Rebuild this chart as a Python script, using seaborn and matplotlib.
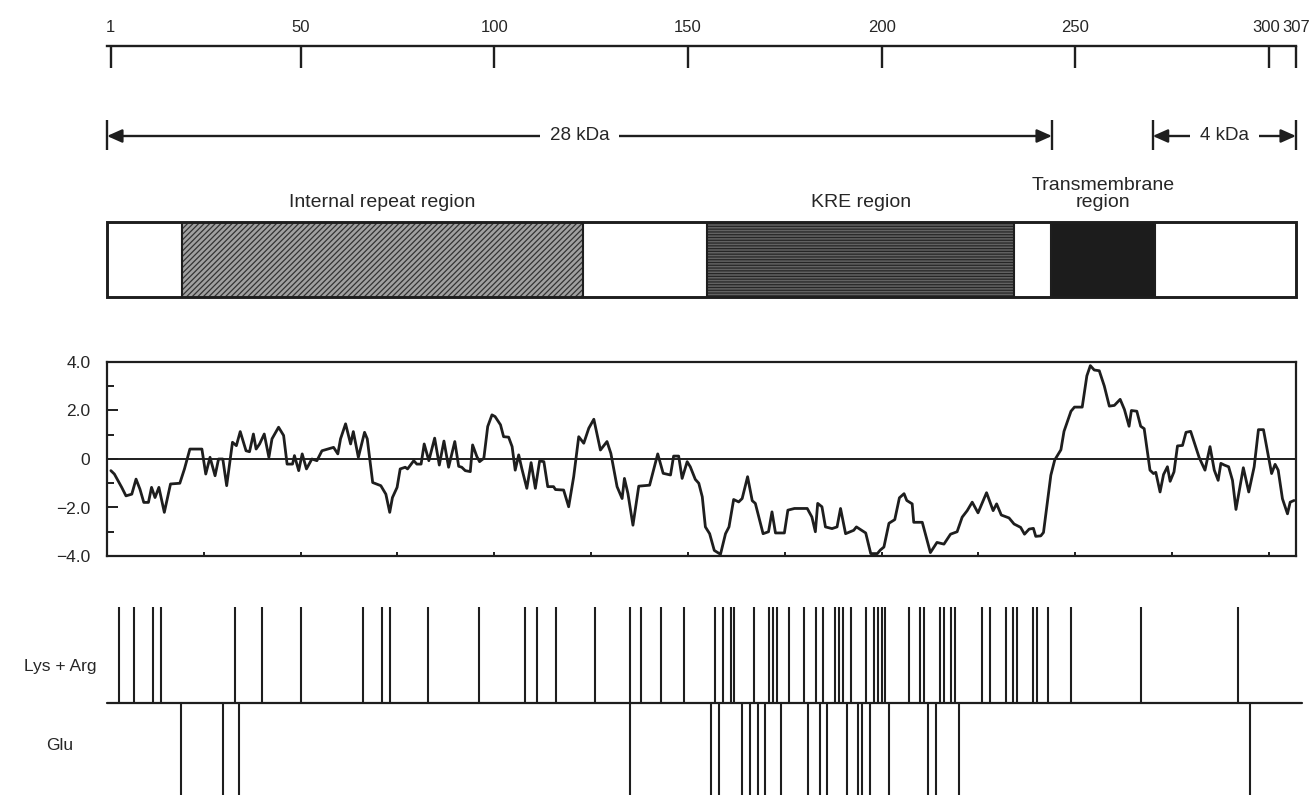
import matplotlib
matplotlib.use("Agg")
import numpy as np
import pandas as pd
import matplotlib.pyplot as plt
import seaborn as sns
from matplotlib.patches import Rectangle
from matplotlib.transforms import ScaledTranslation

# --- data (residue numbers) ---
seq_len = 307
scale_ticks = [1, 50, 100, 150, 200, 250, 300, 307]

mass_edges = [0, 244, 270, 307]          # 28 kDa: 0-244, 4 kDa: 270-307
mass_labels = ["28 kDa", "4 kDa"]

dom_start = [0, 19.3, 122.8, 155, 234.2, 243.8, 270.6]
dom_end = [19.3, 122.8, 155, 234.2, 243.8, 270.6, 307]
dom_kind = ["plain", "repeat", "plain", "kre", "plain", "tm", "plain"]
dom_names = {"repeat": "Internal repeat region", "kre": "KRE region",
             "tm": "Transmembrane\nregion"}

# hydropathy profile
hyd_pos = [1.0, 1.9, 3.8, 4.9, 6.4, 7.5, 8.5, 9.5, 10.7, 11.5, 12.4, 13.4, 14.8,
           16.4, 18.8, 20.0, 21.4, 24.5, 25.5, 26.6, 27.9, 28.8, 29.9, 30.9, 32.4,
           33.4, 34.4, 35.9, 36.8, 37.8, 38.5, 39.4, 40.6, 41.8, 42.6, 44.3, 45.6,
           46.5, 47.9, 48.4, 49.5, 50.4, 51.5, 52.9, 54.2, 55.5, 58.5, 59.6, 60.3,
           61.6, 62.9, 63.6, 64.9, 66.5, 67.2, 68.6, 70.7, 72.0, 73.0, 73.7, 74.9,
           75.7, 77.0, 77.6, 79.2, 80.0, 81.1, 81.9, 83.1, 84.6, 85.8, 87.0, 88.2,
           89.8, 90.8, 91.6, 92.5, 93.8, 94.4, 95.5, 96.2, 97.3, 98.3, 99.4, 100.2,
           101.6, 102.4, 103.7, 104.6, 105.4, 106.3, 107.1, 108.4, 109.5, 110.6,
           111.7, 112.8, 113.8, 115.3, 115.8, 117.9, 119.2, 120.5, 121.8, 123.1,
           124.4, 125.7, 127.4, 129.1, 130.1, 131.7, 133.0, 133.6, 134.5, 135.8,
           137.3, 140.1, 142.2, 143.6, 145.5, 146.3, 147.6, 148.5, 149.8, 150.6,
           151.9, 152.8, 153.7, 154.5, 155.6, 156.8, 158.4, 159.7, 160.6, 161.8,
           163.1, 164.0, 165.4, 166.6, 167.4, 169.4, 170.8, 171.7, 172.6, 174.9,
           175.8, 177.5, 180.8, 182.0, 182.9, 183.5, 184.6, 185.5, 187.2, 188.5,
           189.4, 190.7, 192.8, 193.5, 195.9, 197.2, 198.9, 199.7, 200.6, 201.9,
           203.4, 204.6, 205.8, 206.5, 207.9, 208.3, 210.5, 212.6, 214.3, 216.1,
           217.8, 219.5, 220.8, 222.1, 223.4, 224.9, 227.1, 228.8, 229.7, 230.9,
           232.9, 234.2, 235.9, 236.9, 238.1, 239.2, 239.8, 241.1, 241.8, 242.8,
           243.7, 244.7, 246.3, 247.1, 248.9, 249.8, 251.8, 253.0, 253.9, 254.9,
           256.2, 257.5, 258.8, 260.1, 261.6, 262.7, 263.9, 264.5, 265.9, 266.9,
           267.8, 269.3, 270.2, 270.8, 271.9, 272.8, 273.8, 274.5, 275.5, 276.4,
           277.7, 278.6, 279.8, 282.0, 283.5, 284.8, 285.9, 286.9, 287.6, 288.5,
           289.6, 290.6, 291.5, 293.4, 294.8, 296.2, 297.3, 298.6, 300.7, 301.6,
           302.4, 303.5, 304.8, 305.5, 306.5]
hyd_val = [-0.48, -0.62, -1.17, -1.52, -1.45, -0.83, -1.24, -1.79, -1.79, -1.17,
           -1.59, -1.17, -2.2, -1.03, -1.0, -0.41, 0.41, 0.41, -0.62, 0.07, -0.69,
           0.0, 0.0, -1.1, 0.69, 0.55, 1.13, 0.34, 0.3, 1.03, 0.41, 0.62, 1.03,
           0.07, 0.83, 1.31, 0.97, -0.21, -0.21, 0.14, -0.48, 0.21, -0.41, 0.0,
           -0.07, 0.34, 0.48, 0.21, 0.83, 1.45, 0.62, 1.13, 0.07, 1.1, 0.83, -0.97,
           -1.1, -1.45, -2.2, -1.59, -1.17, -0.41, -0.34, -0.41, -0.07, -0.21,
           -0.21, 0.62, -0.07, 0.86, -0.25, 0.74, -0.34, 0.72, -0.3, -0.34, -0.48,
           -0.52, 0.58, 0.1, -0.11, 0.03, 1.34, 1.82, 1.75, 1.41, 0.92, 0.9, 0.51,
           -0.46, 0.17, -0.39, -1.21, -0.15, -1.21, -0.08, -0.11, -1.14, -1.14,
           -1.26, -1.28, -1.97, -0.73, 0.92, 0.65, 1.27, 1.64, 0.37, 0.72, 0.23,
           -1.14, -1.63, -0.8, -1.42, -2.73, -1.12, -1.08, 0.21, -0.59, -0.66,
           0.12, 0.12, -0.8, -0.11, -0.32, -0.84, -1.0, -1.56, -2.8, -3.08, -3.77,
           -3.93, -3.08, -2.8, -1.67, -1.77, -1.63, -0.73, -1.72, -1.83, -3.08,
           -3.0, -2.18, -3.05, -3.05, -2.11, -2.04, -2.04, -2.39, -3.0, -1.83,
           -1.97, -2.8, -2.87, -2.8, -2.04, -3.08, -2.94, -2.8, -3.05, -3.9, -3.9,
           -3.75, -3.63, -2.65, -2.5, -1.6, -1.43, -1.71, -1.85, -2.61, -2.61,
           -3.86, -3.44, -3.51, -3.1, -3.0, -2.4, -2.13, -1.78, -2.22, -1.39,
           -2.13, -1.85, -2.31, -2.43, -2.68, -2.82, -3.1, -2.89, -2.86, -3.19,
           -3.17, -3.03, -1.78, -0.67, -0.04, 0.38, 1.14, 1.97, 2.14, 2.14, 3.43,
           3.85, 3.67, 3.64, 3.01, 2.18, 2.21, 2.46, 2.04, 1.35, 2.0, 1.97, 1.35,
           1.25, -0.46, -0.6, -0.55, -1.36, -0.64, -0.32, -0.92, -0.53, 0.54, 0.56,
           1.1, 1.14, 0.06, -0.46, 0.51, -0.46, -0.88, -0.18, -0.25, -0.32, -0.88,
           -2.08, -0.36, -1.36, -0.32, 1.21, 1.21, -0.6, -0.22, -0.46, -1.64,
           -2.26, -1.78, -1.71]

lys_arg = [3, 7, 12, 14, 33, 40, 50, 66, 71, 73, 83, 96, 108, 111, 116, 126, 135,
           138, 143, 149, 157, 159, 161, 162, 167, 171, 172, 173, 176, 180, 183,
           185, 188, 189, 190, 192, 196, 198, 199, 200, 201, 207, 210, 211, 215,
           216, 218, 219, 226, 228, 232, 234, 235, 239, 240, 243, 249, 267, 292]
glu = [19, 30, 34, 135, 156, 158, 164, 166, 168, 170, 174, 181, 184, 186, 191,
       194, 195, 197, 202, 212, 214, 220, 295]

# --- figure ---
sns.set_style("white")
plt.rcParams["font.family"] = ["Liberation Sans", "DejaVu Sans"]
plt.rcParams["hatch.linewidth"] = 0.9

W, H = 1314, 795
fig = plt.figure(figsize=(W / 100, H / 100), dpi=100)
X0, X1 = 107, 1296


def add_row(y_top, y_bot):
    ax = fig.add_axes([X0 / W, 1 - y_bot / H, (X1 - X0) / W, (y_bot - y_top) / H])
    ax.set_xlim(0, seq_len)
    return ax


K = "#1e1e1e"

# residue scale
ax_s = add_row(46, 80)
for side in ["left", "right", "bottom"]:
    ax_s.spines[side].set_visible(False)
ax_s.spines["top"].set_linewidth(1.7)
ax_s.spines["top"].set_color(K)
ax_s.set_yticks([])
ax_s.set_xticks(scale_ticks)
ax_s.set_xticklabels([str(t) for t in scale_ticks])
ax_s.tick_params(axis="x", bottom=False, top=True, labelbottom=False, labeltop=True,
                 direction="in", length=16, width=1.7, color=K, pad=8, labelsize=12)
lab300 = ax_s.get_xticklabels()[-2]
lab300.set_transform(lab300.get_transform() + ScaledTranslation(-0.03, 0, fig.dpi_scale_trans))

# molecular mass arrows
ax_a = add_row(115, 155)
ax_a.set_ylim(0, 1)
ax_a.axis("off")
ax_a.vlines(mass_edges, 0.125, 0.875, color=K, lw=1.7, clip_on=False)
for (a, b), lab in zip([(mass_edges[0], mass_edges[1]), (mass_edges[2], mass_edges[3])], mass_labels):
    ax_a.annotate("", xy=(a, 0.475), xytext=(b, 0.475),
                  arrowprops=dict(arrowstyle="<|-|>,head_length=0.9,head_width=0.4",
                                  lw=1.7, color=K, shrinkA=0, shrinkB=0),
                  annotation_clip=False)
    ax_a.text((a + b) / 2, 0.475, lab, ha="center", va="center", fontsize=13.5,
              bbox=dict(facecolor="white", edgecolor="none", pad=7))

# domain map
ax_d = add_row(222, 297)
ax_d.set_ylim(0, 1)
ax_d.axis("off")
styles = {"plain": dict(facecolor="white", hatch=None),
          "repeat": dict(facecolor="#a0a0a0", edgecolor="#333333", hatch="//////"),
          "kre": dict(facecolor="#626262", edgecolor="#262626", hatch="------"),
          "tm": dict(facecolor="#1c1c1c", edgecolor="#1c1c1c", hatch=None)}
for s, e, k in zip(dom_start, dom_end, dom_kind):
    ax_d.add_patch(Rectangle((s, 0), e - s, 1, lw=0, **styles[k]))
    if k in dom_names:
        ax_d.text((s + e) / 2, 1.15, dom_names[k], ha="center", va="bottom",
                  fontsize=14, linespacing=1.0)
ax_d.vlines(dom_start[1:], 0, 1, color=K, lw=1.5)
ax_d.add_patch(Rectangle((0, 0), seq_len, 1, fill=False, lw=2.1, edgecolor=K,
                         clip_on=False))

# hydropathy plot
ax_h = add_row(362, 556)
hyd = pd.DataFrame({"pos": hyd_pos, "val": hyd_val})
sns.lineplot(data=hyd, x="pos", y="val", estimator=None, color=K, lw=2.0, ax=ax_h)
ax_h.axhline(0, color=K, lw=1.4)
ax_h.set_ylim(-4, 4)
ax_h.set_xlim(0, seq_len)
ax_h.set_xlabel("")
ax_h.set_ylabel("")
ax_h.set_yticks([-4, -2, 0, 2, 4])
ax_h.set_yticklabels(["\u22124.0", "\u22122.0", "0", "2.0", "4.0"])
ax_h.set_yticks([-3, -1, 1, 3], minor=True)
ax_h.set_xticks(np.arange(25, 301, 25))
ax_h.set_xticklabels([])
ax_h.tick_params(axis="y", which="major", direction="in", length=8, width=1.4,
                 color=K, labelsize=12.5, pad=12, left=True)
ax_h.tick_params(axis="y", which="minor", direction="in", length=5, width=1.4,
                 color=K, left=True)
ax_h.tick_params(axis="x", direction="in", length=3, width=1.4, color=K, bottom=True)
for sp in ax_h.spines.values():
    sp.set_linewidth(1.6)
    sp.set_color(K)

# charged residues
ax_b = add_row(607, 799)
ax_b.set_ylim(-1, 1)
ax_b.axis("off")
ax_b.vlines(lys_arg, 0, 1, color=K, lw=1.5)
ax_b.vlines(glu, -1, 0, color=K, lw=1.5)
ax_b.plot([0, seq_len + 1.5], [0, 0], color=K, lw=1.6, clip_on=False)
fig.text(60 / W, 1 - 666 / H, "Lys + Arg", ha="center", va="center", fontsize=12.5)
fig.text(60 / W, 1 - 745 / H, "Glu", ha="center", va="center", fontsize=12.5)

fig.savefig("out.png", dpi=100, facecolor="white")
